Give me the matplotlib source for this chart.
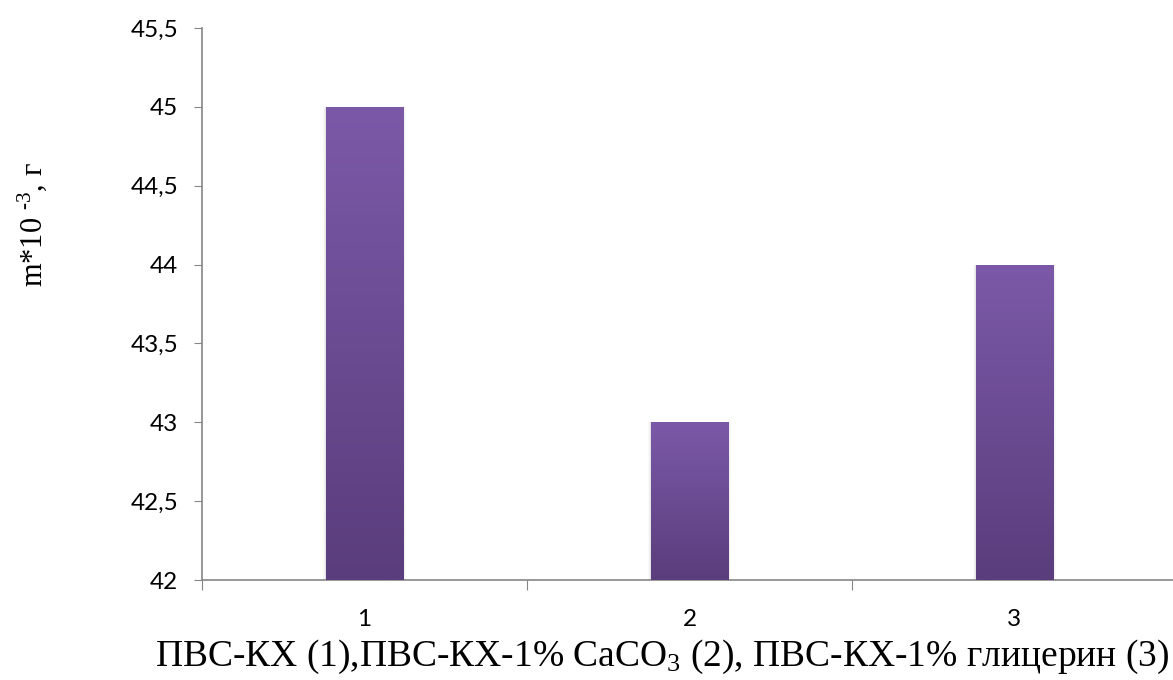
import numpy as np
import matplotlib
matplotlib.use("Agg")
import matplotlib.pyplot as plt
from matplotlib.colors import LinearSegmentedColormap
from matplotlib.ticker import FuncFormatter

# data
categories = ["1", "2", "3"]
values = [45, 43, 44]
y_ticks = [42, 42.5, 43, 43.5, 44, 44.5, 45, 45.5]

plt.rcParams["mathtext.fontset"] = "custom"
plt.rcParams["mathtext.rm"] = "Liberation Serif"
plt.rcParams["mathtext.default"] = "regular"

fig = plt.figure(figsize=(11.73, 6.8), dpi=100)
ax = fig.add_axes([202 / 1173, 1 - 580 / 680, 975 / 1173, 552 / 680])

x = np.arange(1, len(values) + 1)
bars = ax.bar(x, values, width=0.237, bottom=0, facecolor="none", edgecolor="none", zorder=3)

# vertical gradient, lighter on top
cmap = LinearSegmentedColormap.from_list("purp", ["#5a3d7c", "#7b59a8"])
grad = np.linspace(0, 1, 256).reshape(-1, 1)
for b in bars:
    x0, w, h = b.get_x(), b.get_width(), b.get_height()
    # soft shadow
    for k, a in enumerate([0.05, 0.035, 0.02]):
        ax.bar(x0 + w / 2, h, width=w + 0.006 * (k + 1), color="#000000", alpha=a,
               zorder=2, bottom=0)
    im = ax.imshow(grad, cmap=cmap, origin="lower", aspect="auto",
                   extent=[x0, x0 + w, 42, h], zorder=3)
    im.set_clip_path(b)

ax.set_xlim(0.5, 3.5)
ax.set_ylim(42, 45.5)
ax.set_yticks(y_ticks)
ax.yaxis.set_major_formatter(FuncFormatter(lambda v, p: f"{v:g}".replace(".", ",")))

ax.set_xticks([0.5, 1.5, 2.5, 3.5])
ax.set_xticklabels([])
ax.set_xticks(x, minor=True)
ax.set_xticklabels(categories, minor=True)
ax.tick_params(axis="x", which="minor", length=0, pad=21, labelsize=17.5)
ax.tick_params(axis="x", which="major", length=7, color="#868686", direction="out")
ax.tick_params(axis="y", length=6, color="#868686", pad=11, labelsize=17.5)
for lab in ax.get_xticklabels(minor=True) + ax.get_yticklabels():
    lab.set_family("Lato")

for s in ["top", "right"]:
    ax.spines[s].set_visible(False)
for s in ["left", "bottom"]:
    ax.spines[s].set_color("#868686")
    ax.spines[s].set_linewidth(1.2)

fig.text(32 / 1173, 1 - 225 / 680, "m*10 $^{\u20103}$, г", rotation=90, ha="center", va="center",
         family="Liberation Serif", fontsize=22)
fig.text(662 / 1173, 1 - 657 / 680, "ПВС-КХ (1),ПВС-КХ-1% CaCO$_3$ (2), ПВС-КХ-1% глицерин (3)",
         ha="center", va="center", family="Liberation Serif", fontsize=27)

fig.savefig("out.png", dpi=100)
